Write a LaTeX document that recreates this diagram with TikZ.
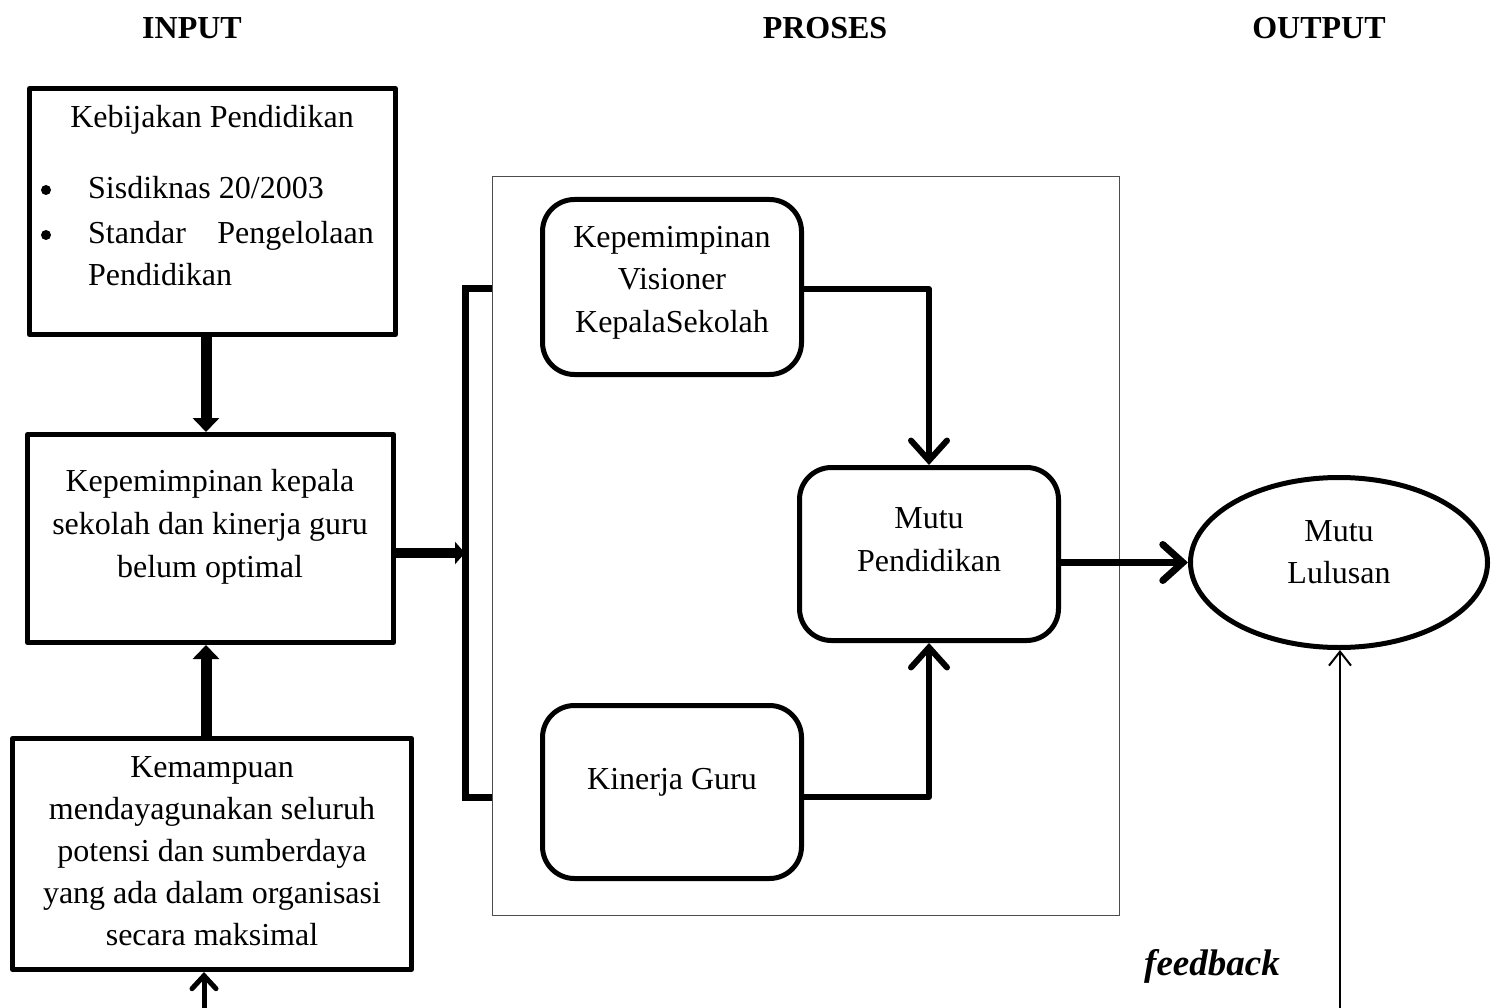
\documentclass[tikz,border=0pt]{standalone}
\usepackage{fontspec}
\setmainfont{Liberation Serif}
\usetikzlibrary{arrows.meta,shapes.geometric}
\begin{document}
\begin{tikzpicture}[x=1pt,y=-1pt,
  every node/.style={font=\fontsize{32}{42}\selectfont},
  txt/.style={anchor=base,inner sep=0pt},
  dotmark/.style={circle,fill,inner sep=0pt,minimum size=10pt},
  sqbox/.style={draw,line width=5pt,inner sep=0pt,line join=round},
  rbox/.style={draw,line width=5pt,inner sep=0pt,rounded corners=32pt},
  fatarrow/.style={line width=11pt,-{Triangle[width=26pt,length=14pt]}},
  barbarrow/.style={line width=6pt,line cap=round,line join=round,-{Straight Barb[length=20pt,width=36pt,line cap=round]}},
  thinbarb/.style={line width=2pt,-{Straight Barb[length=14pt,width=22pt]}}]
\useasboundingbox (0,0) rectangle (1499,1008);
\fill[white] (0,0) rectangle (1499,1008);

% titles
\node[txt,font=\fontsize{32}{42}\selectfont\bfseries] (tin) at (192,39) {INPUT};
\node[txt,font=\fontsize{32}{42}\selectfont\bfseries] (tpr) at (825,39) {PROSES};
\node[txt,font=\fontsize{32}{42}\selectfont\bfseries] (tout) at (1319,39) {OUTPUT};

% process frame
\node[draw=black!70,line width=1pt,minimum width=627pt,minimum height=738pt,inner sep=0pt] (pbox) at (805.5,546) {};

% input boxes
\node[sqbox,minimum width=366pt,minimum height=246pt] (b1) at (212.5,211.5) {};
\node[sqbox,minimum width=366pt,minimum height=208pt] (b2) at (210.5,538.5) {};
\node[sqbox,minimum width=399pt,minimum height=231pt] (b3) at (212,854) {};

% process boxes
\node[rbox,minimum width=259pt,minimum height=175pt] (ka) at (672,287) {};
\node[rbox,minimum width=259pt,minimum height=173pt] (mp) at (929,554) {};
\node[rbox,minimum width=259pt,minimum height=173pt] (kg) at (672,792) {};

% output
\node[draw,ellipse,line width=5pt,inner sep=0pt,minimum width=297pt,minimum height=170pt] (ml) at (1339,562.5) {};

% texts box 1
\node[txt] (t1a) at (212,128) {Kebijakan Pendidikan};
\node[dotmark] (bu1) at (46,190) {};
\node[txt,anchor=base west] (t1b) at (88,199) {Sisdiknas 20/2003};
\node[dotmark] (bu2) at (46,235) {};
\node[txt,anchor=base west] (t1c) at (88,244) {Standar};
\node[txt,anchor=base east] (t1d) at (374,244) {Pengelolaan};
\node[txt,anchor=base west] (t1e) at (88,286) {Pendidikan};

% texts box 2
\node[txt] (t2a) at (210,491) {Kepemimpinan kepala};
\node[txt] (t2b) at (210,534) {sekolah dan kinerja guru};
\node[txt] (t2c) at (210,577) {belum optimal};

% texts box 3
\node[txt] (t3a) at (212,777) {Kemampuan};
\node[txt] (t3b) at (212,819) {mendayagunakan seluruh};
\node[txt] (t3c) at (212,861) {potensi dan sumberdaya};
\node[txt] (t3d) at (212,903) {yang ada dalam organisasi};
\node[txt] (t3e) at (212,945) {secara maksimal};

% process texts
\node[txt] (tka) at (672,248) {Kepemimpinan};
\node[txt] (tkb) at (672,290) {Visioner};
\node[txt] (tkc) at (672,332) {KepalaSekolah};
\node[txt] (tma) at (929,528) {Mutu};
\node[txt] (tmb) at (929,571) {Pendidikan};
\node[txt] (tkg) at (672,789) {Kinerja Guru};
\node[txt] (tla) at (1339,541) {Mutu};
\node[txt] (tlb) at (1339,583) {Lulusan};

\node[txt,font=\fontsize{37}{42}\selectfont\bfseries\itshape] (tfb) at (1212,975) {feedback};

% coordinates
\coordinate (xa) at (206,0);
\coordinate (bot) at (204,1008);
\coordinate (bt) at (465,289);
\coordinate (bb) at (465,797);
\coordinate (bm) at (465,553);
\coordinate (fb) at (1340,1008);

% connectors
\draw[fatarrow] (b1.south -| xa) -- (b2.north -| xa);
\draw[fatarrow] (b3.north -| xa) -- (b2.south -| xa);
\draw[line width=5pt,line cap=round,-{Straight Barb[length=13pt,width=24pt,line cap=round]}] (bot) -- (b3.south -| bot);
\draw[line width=10pt,-{Triangle[width=22pt,length=10pt]}] (b2.east |- bm) -- (bm);
\draw[line width=7pt,line join=miter] (pbox.west |- bt) -- (bt) -- (bb) -- (pbox.west |- bb);
\draw[barbarrow] (ka.east |- bt) -| (mp.north);
\draw[barbarrow] (kg.east |- bb) -| (mp.south);
\draw[line width=7pt,line cap=round,-{Straight Barb[length=20pt,width=36pt,line cap=round]}] (mp.east |- ml.west) -- (ml.west);
\draw[thinbarb] (fb) -- (ml.south -| fb);
\end{tikzpicture}
\end{document}
